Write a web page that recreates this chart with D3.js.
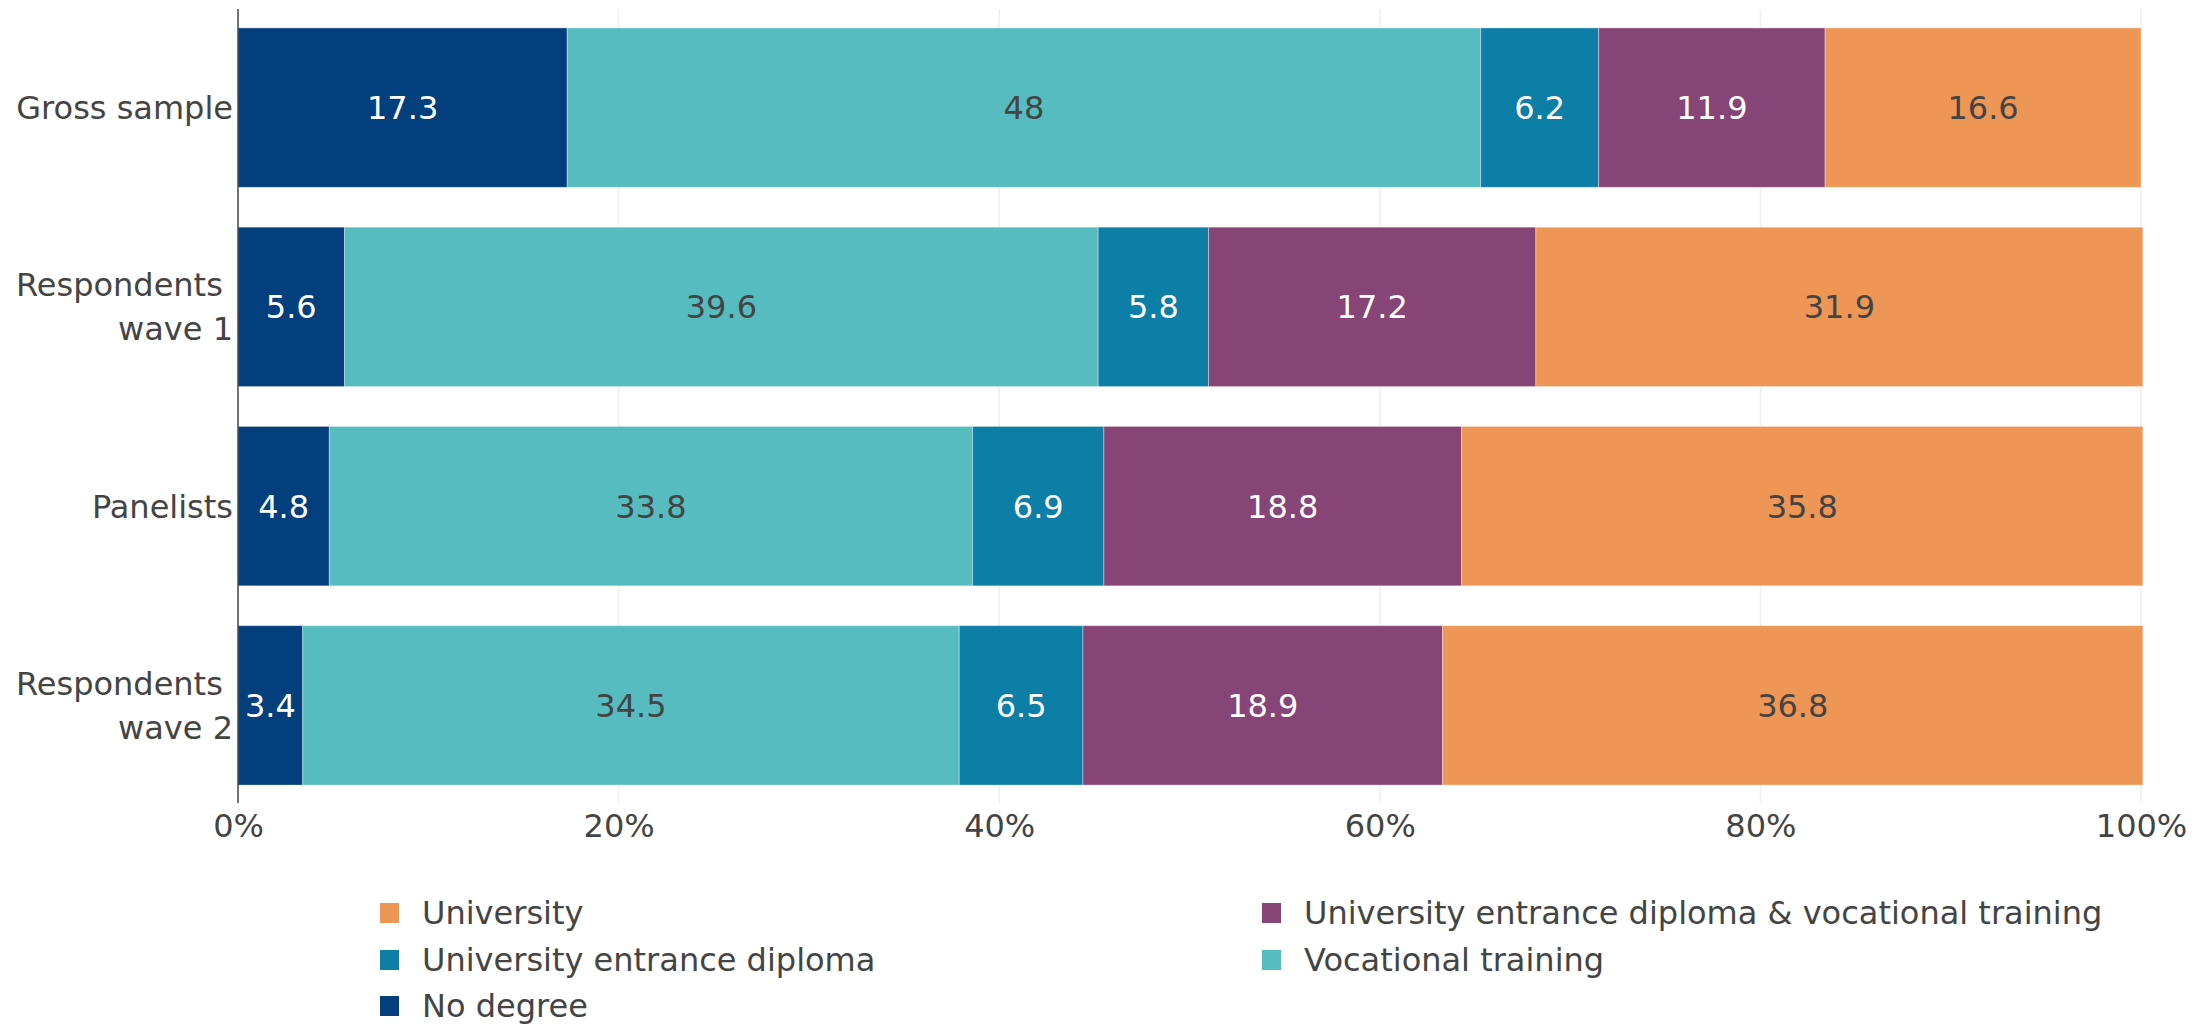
<!DOCTYPE html>
<html>
<head>
<meta charset="utf-8">
<script src="https://cdn.jsdelivr.net/npm/d3@7"></script>
<style>
  html, body { margin: 0; padding: 0; background: #fff; }
  svg { display: block; font-family: "DejaVu Sans", Verdana, sans-serif; }
</style>
</head>
<body>
<svg id="chart" width="2211" height="1028"></svg>
<script>
// Groups shown on the vertical axis (top to bottom); "\n" marks a line break
const categories = ["Gross sample", "Respondents \nwave 1", "Panelists", "Respondents \nwave 2"];

// Education levels, in stacking order from left to right
const seriesNames = [
  "No degree",
  "Vocational training",
  "University entrance diploma",
  "University entrance diploma & vocational training",
  "University"
];

// Shares (%) per group, one array per education level
const noDegree        = [17.3, 5.6, 4.8, 3.4];
const vocational      = [48, 39.6, 33.8, 34.5];
const entranceDiploma = [6.2, 5.8, 6.9, 6.5];
const diplomaAndVoc   = [11.9, 17.2, 18.8, 18.9];
const university      = [16.6, 31.9, 35.8, 36.8];

const seriesValues = [noDegree, vocational, entranceDiploma, diplomaAndVoc, university];

const xTicks = [0, 20, 40, 60, 80, 100];

// Legend order (two columns, filled row by row)
const legendOrder = [
  "University",
  "University entrance diploma & vocational training",
  "University entrance diploma",
  "Vocational training",
  "No degree"
];

const colors = {
  "No degree": "#023f7c",
  "Vocational training": "#56bcbf",
  "University entrance diploma": "#0d7ea6",
  "University entrance diploma & vocational training": "#874476",
  "University": "#ee9656"
};
const textColors = {
  "No degree": "#ffffff",
  "Vocational training": "#444444",
  "University entrance diploma": "#ffffff",
  "University entrance diploma & vocational training": "#ffffff",
  "University": "#444444"
};

const svg = d3.select("#chart");
const plot = { left: 238, right: 2141, top: 8, bottom: 805 };
const fontSize = 32;

const x = d3.scaleLinear().domain([0, 100]).range([plot.left, plot.right]);
const y = d3.scaleBand().domain(categories)
  .range([plot.top, plot.bottom]).paddingInner(0.2).paddingOuter(0.1);

// Vertical gridlines
svg.append("g").selectAll("line").data(xTicks.filter(d => d > 0)).join("line")
  .attr("x1", d => x(d)).attr("x2", d => x(d))
  .attr("y1", plot.top + 1).attr("y2", plot.bottom - 2)
  .attr("stroke", "#eeeeee").attr("stroke-width", 1.5);

// Stacked segments
const stackData = categories.map((c, i) => {
  const row = { category: c };
  seriesNames.forEach((s, k) => { row[s] = seriesValues[k][i]; });
  return row;
});
const stacked = d3.stack().keys(seriesNames)(stackData);

const layers = svg.append("g").selectAll("g").data(stacked).join("g")
  .attr("fill", d => colors[d.key]);

layers.selectAll("rect").data(d => d.map(v => ({ key: d.key, v }))).join("rect")
  .attr("x", d => x(d.v[0]))
  .attr("width", d => x(d.v[1]) - x(d.v[0]))
  .attr("y", d => y(d.v.data.category))
  .attr("height", y.bandwidth())
  .attr("stroke", "rgba(255,255,255,0.35)")
  .attr("stroke-width", 1);

// Value labels centred in each segment
layers.selectAll("text").data(d => d.map(v => ({ key: d.key, v }))).join("text")
  .attr("x", d => (x(d.v[0]) + x(d.v[1])) / 2)
  .attr("y", d => y(d.v.data.category) + y.bandwidth() / 2)
  .attr("dy", "0.36em")
  .attr("text-anchor", "middle")
  .attr("font-size", fontSize)
  .attr("fill", d => textColors[d.key])
  .text(d => d.v.data[d.key]);

// Zero line
svg.append("line")
  .attr("x1", x(0)).attr("x2", x(0))
  .attr("y1", plot.top + 1).attr("y2", plot.bottom - 2)
  .attr("stroke", "#444").attr("stroke-width", 1.5);

// X axis tick labels
const xAxis = d3.axisBottom(x).tickValues(xTicks).tickFormat(d => d + "%").tickSize(0).tickPadding(0);
const xg = svg.append("g").attr("transform", `translate(0, ${plot.bottom})`).call(xAxis);
xg.select(".domain").remove();
xg.selectAll("text").attr("font-size", fontSize).attr("fill", "#444")
  .attr("font-family", "DejaVu Sans, Verdana, sans-serif")
  .attr("y", 20).attr("dy", "0.36em");

// Y axis category labels (multi-line)
const yg = svg.append("g");
categories.forEach(c => {
  const lines = c.split("\n");
  const lh = 44;
  const cy = y(c) + y.bandwidth() / 2;
  const t = yg.append("text")
    .attr("text-anchor", "end")
    .attr("font-size", fontSize)
    .attr("fill", "#444")
    .attr("xml:space", "preserve")
    .style("white-space", "pre");
  lines.forEach((ln, i) => {
    t.append("tspan")
      .attr("x", plot.left - 5)
      .attr("y", cy + (i - (lines.length - 1) / 2) * lh)
      .attr("dy", "0.36em")
      .text(ln);
  });
});

// Legend
const legendCols = [380, 1262];
const legendRows = [913, 960, 1006];
const legend = svg.append("g");
legendOrder.forEach((name, i) => {
  const col = i % 2, row = Math.floor(i / 2);
  const g = legend.append("g")
    .attr("transform", `translate(${legendCols[col]}, ${legendRows[row]})`);
  g.append("rect").attr("x", 0).attr("y", -10).attr("width", 19).attr("height", 20)
    .attr("fill", colors[name]);
  g.append("text").attr("x", 42).attr("dy", "0.34em")
    .attr("font-size", fontSize).attr("fill", "#444").text(name);
});
</script>
</body>
</html>
